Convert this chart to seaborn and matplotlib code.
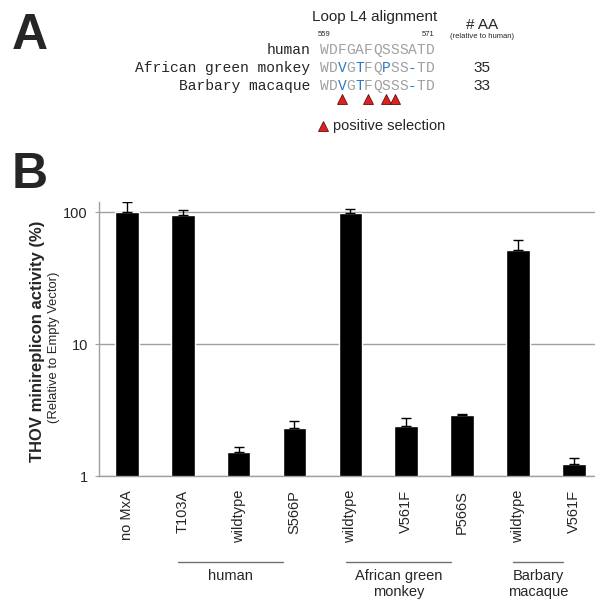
import matplotlib
matplotlib.use("Agg")
import matplotlib.pyplot as plt
from matplotlib.ticker import NullLocator
import seaborn as sns
import pandas as pd
import numpy as np

# panel B data
labels = ["no MxA", "T103A", "wildtype", "S566P", "wildtype", "V561F", "P566S", "wildtype", "V561F"]
activity = [100, 96, 1.52, 2.31, 99.5, 2.40, 2.88, 52, 1.23]
err_upper = [19, 8, 0.15, 0.30, 6.5, 0.37, 0.10, 10, 0.13]
groups = ["human", "African green\nmonkey", "Barbary\nmacaque"]
group_span = [(1, 3), (4, 6), (7, 8)]

# panel A data
species = ["human", "African green monkey", "Barbary macaque"]
loop_seq = ["WDFGAFQSSSATD", "WDVGTFQPSS-TD", "WDVGTFQSSS-TD"]
aa_count = ["", "35", "33"]
pos_sel = [2, 5, 7, 8]
seq_start, seq_end = "559", "571"

sns.set_style("white")
plt.rcParams["font.family"] = ["Liberation Sans", "DejaVu Sans"]

W, H = 595, 600
fig = plt.figure(figsize=(W / 100, H / 100), dpi=100)

def fx(x):
    return x / W

def fy(y):
    return 1 - y / H

# ---- panel A ----
fig.text(fx(12), fy(36), "A", fontsize=36, fontweight="bold", va="center", ha="left")
fig.text(fx(375), fy(17), "Loop L4 alignment", fontsize=11, ha="center", va="center")
fig.text(fx(482), fy(25), "# AA", fontsize=11, ha="center", va="center")
fig.text(fx(482), fy(37), "(relative to human)", fontsize=5.5, ha="center", va="center")
fig.text(fx(318), fy(35), seq_start, fontsize=5.5, ha="left", va="center")
fig.text(fx(434), fy(35), seq_end, fontsize=5.5, ha="right", va="center")

step = 8.8
x0 = 320
row_y = [50, 68, 86]
for r, (sp, seq, n) in enumerate(zip(species, loop_seq, aa_count)):
    fig.text(fx(310), fy(row_y[r]), sp, fontsize=10.5, family="Liberation Mono",
             ha="right", va="center")
    for i, ch in enumerate(seq):
        diff = r > 0 and ch != loop_seq[0][i]
        fig.text(fx(x0 + step / 2 + i * step), fy(row_y[r]), ch,
                 fontsize=10.5, family="Liberation Mono", ha="center", va="center",
                 color="#2a78cc" if diff else "#a0a0a0")
    if n:
        fig.text(fx(482), fy(row_y[r]), n, fontsize=11, ha="center", va="center")

tri_x = [fx(x0 + step / 2 + i * step) for i in pos_sel]
fig.lines.append(plt.Line2D(tri_x, [fy(99)] * len(tri_x), transform=fig.transFigure,
                            ls="none", marker="^", ms=6.5, mfc="#e02020", mec="#601010", mew=0.6))
fig.lines.append(plt.Line2D([fx(323)], [fy(126)], transform=fig.transFigure,
                            ls="none", marker="^", ms=6.5, mfc="#e02020", mec="#601010", mew=0.6))
fig.text(fx(333), fy(126), "positive selection", fontsize=10.5, ha="left", va="center")

# ---- panel B ----
fig.text(fx(12), fy(175), "B", fontsize=36, fontweight="bold", va="center", ha="left")

ax = fig.add_axes([fx(99), fy(476), 1 - fx(99), (476 - 202) / H])
ax.set_yscale("log")

df = pd.DataFrame({"pos": [str(i) for i in range(len(labels))], "activity": activity})
sns.barplot(data=df, x="pos", y="activity", color="black", saturation=1, width=0.42,
            errorbar=None, ax=ax)
ax.errorbar(np.arange(len(labels)), activity, yerr=[np.zeros(len(labels)), err_upper],
            fmt="none", ecolor="black", elinewidth=1, capsize=3.5, capthick=1)

ax.set_ylim(1, 120)
ax.set_xlim(-0.5, 8.38)
ax.set_yticks([1, 10, 100])
ax.set_yticklabels(["1", "10", "100"])
ax.yaxis.set_minor_locator(NullLocator())
ax.set_xticks(range(len(labels)))
ax.set_xticklabels(labels, rotation=90)
ax.tick_params(axis="y", length=3, color="#a0a0a0", labelsize=10.5, pad=5, left=True)
ax.tick_params(axis="x", length=0, labelsize=10.5, pad=10)
ax.yaxis.grid(True, color="#a0a0a0", lw=1)
ax.set_axisbelow(True)
for s in ["top", "right"]:
    ax.spines[s].set_visible(False)
for s in ["left", "bottom"]:
    ax.spines[s].set_color("#a0a0a0")
    ax.spines[s].set_linewidth(1)
ax.set_xlabel("")
ax.set_ylabel("")

tr = ax.get_xaxis_transform()
for name, (a, b) in zip(groups, group_span):
    ax.plot([a - 0.08, b - 0.2], [-0.314, -0.314], color="#707070", lw=1,
            transform=tr, clip_on=False)
    ax.text((a - 0.08 + b - 0.2) / 2, -0.34, name, transform=tr, ha="center", va="top",
            fontsize=10.5, linespacing=1.2)

fig.text(fx(38), fy(341), "THOV minireplicon activity (%)", rotation=90, fontsize=12,
         fontweight="bold", ha="center", va="center")
fig.text(fx(54), fy(347), "(Relative to Empty Vector)", rotation=90, fontsize=9.4,
         ha="center", va="center")

fig.savefig("out.png", dpi=100)
